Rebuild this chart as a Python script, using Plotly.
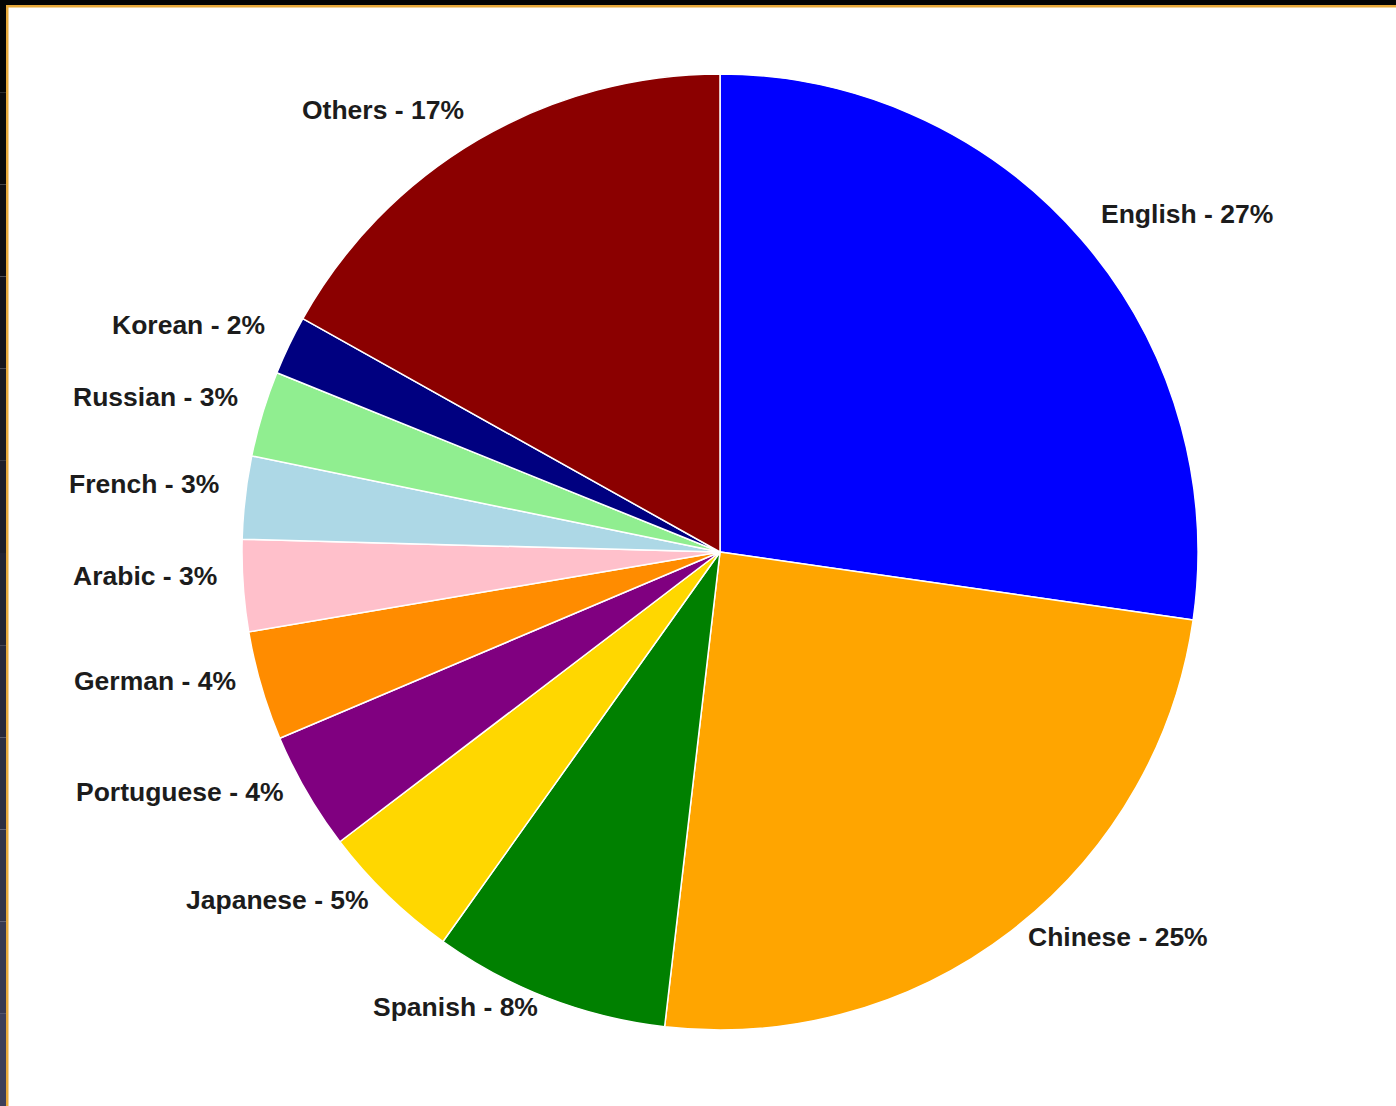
import math
import plotly.graph_objects as go

languages = ["English", "Chinese", "Spanish", "Japanese", "Portuguese", "German",
             "Arabic", "French", "Russian", "Korean", "Others"]
shares = [27.3, 24.6, 8.0, 4.8, 4.0, 3.7, 3.1, 2.8, 2.9, 2.0, 16.9]
colors = ["#0000FF", "#FFA500", "#008000", "#FFD700", "#800080", "#FF8C00",
          "#FFC0CB", "#ADD8E6", "#90EE90", "#000080", "#8B0000"]

W, H = 1396, 1106
CX, CY, R = 720, 552, 478

fig = go.Figure()
fig.add_trace(go.Pie(
    labels=languages, values=shares, sort=False, direction="clockwise", rotation=0,
    marker=dict(colors=colors, line=dict(color="white", width=1.5)),
    textinfo="none", hoverinfo="label+percent", showlegend=False,
    domain=dict(x=[(CX - R) / W, (CX + R) / W], y=[1 - (CY + R) / H, 1 - (CY - R) / H]),
))

total = sum(shares)
annotations = []
cum = 0.0
for lab, v in zip(languages, shares):
    mid = (cum + v / 2) / total * 2 * math.pi
    cum += v
    s, c = math.sin(mid), math.cos(mid)
    x = (CX + 1.05 * R * s) / W
    y = 1 - (CY - 1.045 * R * c) / H
    annotations.append(dict(
        x=x, y=y, xref="paper", yref="paper", showarrow=False,
        text=f"<b>{lab} - {round(v / total * 100)}%</b>",
        xanchor="left" if s > 0 else "right", yanchor="middle", yshift=11,
        font=dict(family="Liberation Sans, Arial, sans-serif", size=26.5, color="#1c1c1c"),
    ))

shapes = []
# dark frame at top and left with orange inner line
shapes.append(dict(type="rect", xref="paper", yref="paper", x0=0, x1=1, y0=1 - 5 / H, y1=1,
                   fillcolor="#050505", line=dict(width=0), layer="above"))
n = 12
for i in range(n):
    t = i / (n - 1)
    r_ = int(5 + t * (60 - 5)); g_ = int(5 + t * (63 - 5)); b_ = int(5 + t * (90 - 5))
    shapes.append(dict(type="rect", xref="paper", yref="paper", x0=0, x1=6 / W,
                       y0=1 - (i + 1) / n, y1=1 - i / n,
                       fillcolor=f"rgb({r_},{g_},{b_})", line=dict(width=0), layer="above"))
shapes.append(dict(type="rect", xref="paper", yref="paper", x0=6 / W, x1=1, y0=1 - 7.5 / H, y1=1 - 5 / H,
                   fillcolor="#E8A93A", line=dict(width=0), layer="above"))
shapes.append(dict(type="rect", xref="paper", yref="paper", x0=6 / W, x1=8.5 / W, y0=0, y1=1 - 5 / H,
                   fillcolor="#E8A93A", line=dict(width=0), layer="above"))

fig.update_layout(
    width=W, height=H, margin=dict(l=0, r=0, t=0, b=0),
    paper_bgcolor="white", plot_bgcolor="white",
    annotations=annotations, shapes=shapes,
)

fig.write_html("out.html")
